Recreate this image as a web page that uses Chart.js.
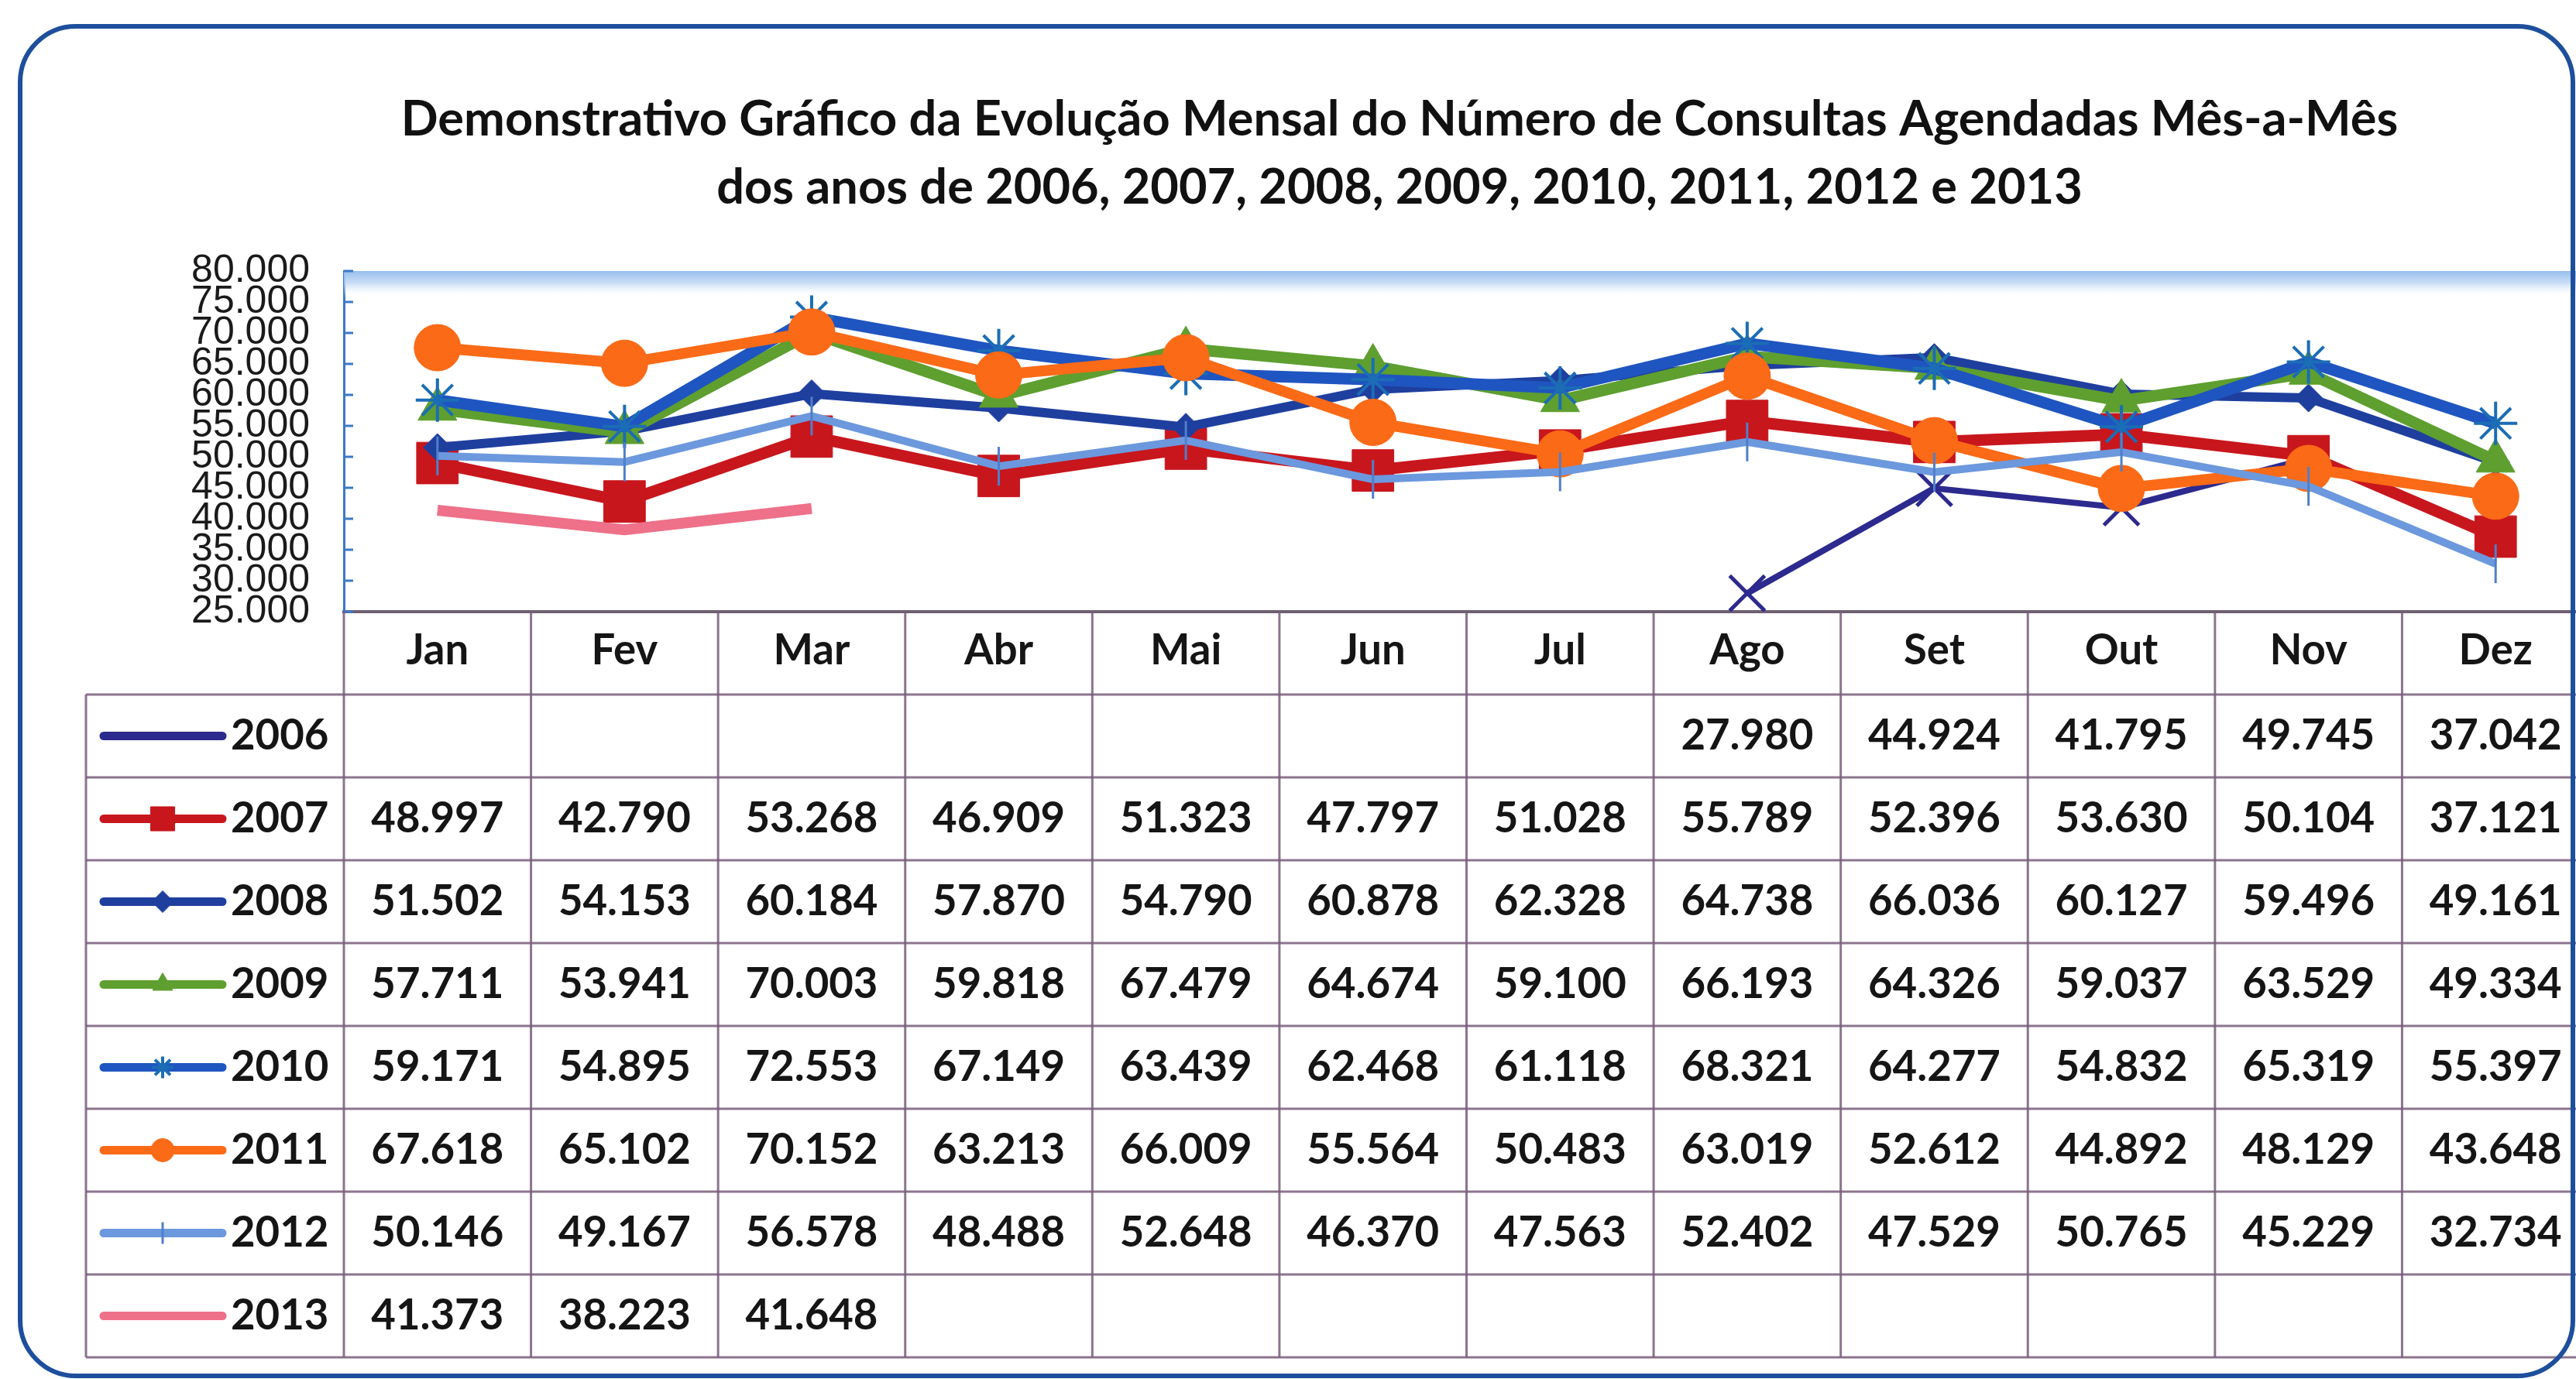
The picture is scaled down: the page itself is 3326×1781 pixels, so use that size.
<!DOCTYPE html>
<html>
<head>
<meta charset="utf-8">
<script src="https://cdn.jsdelivr.net/npm/chart.js@4.4.1/dist/chart.umd.min.js"></script>
<style>
html,body{margin:0;padding:0;background:#fff;overflow:hidden;width:3326px;height:1781px}
canvas{display:block}
</style>
</head>
<body>
<canvas id="c" width="3403" height="1781"></canvas>
<script>
// ---------- DATA ----------
const titleLines = [
  'Demonstrativo Gráfico da Evolução Mensal do Número de Consultas Agendadas Mês-a-Mês',
  'dos anos de 2006, 2007, 2008, 2009, 2010, 2011, 2012 e 2013'
];
const months = ['Jan','Fev','Mar','Abr','Mai','Jun','Jul','Ago','Set','Out','Nov','Dez'];
const years = ['2006','2007','2008','2009','2010','2011','2012','2013'];
const yTickValues = [25000,30000,35000,40000,45000,50000,55000,60000,65000,70000,75000,80000];

const s2006 = [null,null,null,null,null,null,null,27980,44924,41795,49745,37042];
const s2007 = [48997,42790,53268,46909,51323,47797,51028,55789,52396,53630,50104,37121];
const s2008 = [51502,54153,60184,57870,54790,60878,62328,64738,66036,60127,59496,49161];
const s2009 = [57711,53941,70003,59818,67479,64674,59100,66193,64326,59037,63529,49334];
const s2010 = [59171,54895,72553,67149,63439,62468,61118,68321,64277,54832,65319,55397];
const s2011 = [67618,65102,70152,63213,66009,55564,50483,63019,52612,44892,48129,43648];
const s2012 = [50146,49167,56578,48488,52648,46370,47563,52402,47529,50765,45229,32734];
const s2013 = [41373,38223,41648,null,null,null,null,null,null,null,null,null];

const seriesValues = [s2006,s2007,s2008,s2009,s2010,s2011,s2012,s2013];

// ---------- STYLES ----------
const styles = [
  {color:'#2c2a8e', width:8,  point:'crossRot', r:32, lr:0,  pw:5, pcolor:'#2c2a8e', rot:0},
  {color:'#c8161d', width:15, point:'rect',     r:38, lr:22, pw:1, pcolor:'#c8161d', rot:0},
  {color:'#1f3f9f', width:12, point:'rectRot',  r:18, lr:14, pw:1, pcolor:'#1f3f9f', rot:0},
  {color:'#5e9f2f', width:15, point:'triangle', r:29, lr:15, pw:1, pcolor:'#5e9f2f', rot:0},
  {color:'#1f55c0', width:15, point:'star',     r:28, lr:14, pw:4, pcolor:'#1b6db5', rot:0},
  {color:'#fb6a16', width:14, point:'circle',   r:30, lr:15, pw:1, pcolor:'#fb6a16', rot:0},
  {color:'#6c98dd', width:10, point:'line',     r:25, lr:14, pw:3, pcolor:'#4f7fcc', rot:90},
  {color:'#ee7089', width:14, point:false,      r:0,  lr:0,  pw:0, pcolor:'#ee7089', rot:0}
];

const FAM = "Lato, 'Open Sans', 'Noto Sans', sans-serif";
function fitSize(text, weight, family, target){
  const c = document.createElement('canvas').getContext('2d');
  c.font = weight + ' 100px ' + family;
  return 100 * target / c.measureText(text).width;
}
const titleSize = fitSize(titleLines[0], 'bold', FAM, 2579);
const cellSize = fitSize('44.924', 'bold', FAM, 171);

function fmt(v){ return String(v).replace(/\B(?=(\d{3})+(?!\d))/g, '.'); }

// ---------- LAYOUT CONSTANTS ----------
const TABLE = {left:111, headH:107, rowH:107, legX1:134, legX2:287, legMarkX:210, yearX:298};

const decorPlugin = {
  id:'decor',
  beforeDraw(chart){
    const ctx = chart.ctx;
    ctx.save();
    ctx.fillStyle = '#ffffff';
    ctx.fillRect(0,0,chart.width,chart.height);
    ctx.restore();
  },
  beforeDatasetsDraw(chart){
    const ctx = chart.ctx, a = chart.chartArea, y = chart.scales.y;
    ctx.save();
    const g = ctx.createLinearGradient(0, a.top, 0, a.top + 34);
    g.addColorStop(0, 'rgba(150,190,238,1)');
    g.addColorStop(0.45, 'rgba(185,212,244,0.8)');
    g.addColorStop(1, 'rgba(255,255,255,0)');
    ctx.fillStyle = g;
    ctx.fillRect(a.left, a.top, a.right - a.left, 34);
    ctx.strokeStyle = '#3d78c8';
    ctx.lineWidth = 3;
    y.ticks.forEach(t => {
      const py = y.getPixelForValue(t.value);
      ctx.beginPath(); ctx.moveTo(a.left, py); ctx.lineTo(a.left + 12, py); ctx.stroke();
    });
    ctx.restore();
  },
  afterDraw(chart){
    const ctx = chart.ctx, a = chart.chartArea, x = chart.scales.x;
    const n = seriesValues.length;
    const colW = (a.right - a.left) / months.length;
    const headTop = a.bottom, headBot = headTop + TABLE.headH;
    const tableBot = headBot + n * TABLE.rowH;
    ctx.save();
    ctx.strokeStyle = 'rgba(120,92,122,0.85)';
    ctx.lineWidth = 3;
    const line = (x1,y1,x2,y2) => { ctx.beginPath(); ctx.moveTo(x1,y1); ctx.lineTo(x2,y2); ctx.stroke(); };
    for (let i = 0; i <= months.length; i++) {
      const px = a.left + i * colW;
      line(px, headTop, px, tableBot);
    }
    line(TABLE.left, headBot, TABLE.left, tableBot);
    for (let k = 0; k <= n; k++) {
      const py = headBot + k * TABLE.rowH;
      line(TABLE.left, py, chart.width, py);
    }
    ctx.font = 'bold ' + cellSize.toFixed(2) + 'px ' + FAM;
    ctx.textBaseline = 'middle';
    for (let k = 0; k < n; k++) {
      const cy = headBot + (k + 0.5) * TABLE.rowH;
      const st = styles[k];
      ctx.strokeStyle = st.color;
      ctx.lineWidth = 11;
      ctx.lineCap = 'round';
      line(TABLE.legX1, cy, TABLE.legX2, cy);
      ctx.lineCap = 'butt';
      if (st.point && st.lr > 0 && Chart.helpers && Chart.helpers.drawPoint) {
        ctx.fillStyle = st.pcolor; ctx.strokeStyle = st.pcolor;
        ctx.lineWidth = st.pw;
        Chart.helpers.drawPoint(ctx, {pointStyle: st.point, radius: st.lr, rotation: st.rot, borderWidth: st.pw}, TABLE.legMarkX, cy);
      }
      ctx.fillStyle = '#151515';
      ctx.textAlign = 'left';
      ctx.fillText(years[k], TABLE.yearX, cy);
      ctx.textAlign = 'center';
      seriesValues[k].forEach((v, i) => {
        if (v === null) return;
        ctx.fillText(fmt(v), x.getPixelForValue(i), cy);
      });
    }
    const L = 26, T = 34, R = 3322, B = 1777, rad = 72;
    ctx.strokeStyle = '#1d4f9c';
    ctx.lineWidth = 6;
    ctx.beginPath();
    ctx.moveTo(L + rad, T);
    ctx.lineTo(R - rad, T); ctx.arcTo(R, T, R, T + rad, rad);
    ctx.lineTo(R, B - rad); ctx.arcTo(R, B, R - rad, B, rad);
    ctx.lineTo(L + rad, B); ctx.arcTo(L, B, L, B - rad, rad);
    ctx.lineTo(L, T + rad); ctx.arcTo(L, T, L + rad, T, rad);
    ctx.closePath();
    ctx.stroke();
    ctx.restore();
  }
};

const datasets = seriesValues.map((vals, i) => {
  const st = styles[i];
  return {
    label: years[i],
    data: vals,
    yAxisID: 'y',
    borderColor: st.color,
    backgroundColor: st.pcolor,
    borderWidth: st.width,
    tension: 0,
    spanGaps: false,
    borderJoinStyle: 'round',
    pointStyle: st.point,
    pointRadius: st.r,
    pointRotation: st.rot,
    pointBorderWidth: st.pw,
    pointBorderColor: st.pcolor,
    pointBackgroundColor: st.pcolor,
    order: seriesValues.length - 1 - i
  };
});

new Chart(document.getElementById('c'), {
  type: 'line',
  data: { labels: months, datasets: datasets },
  options: {
    responsive: false,
    animation: false,
    devicePixelRatio: 1,
    layout: { padding: { left: 211, right: 0, top: 0, bottom: 28 } },
    plugins: {
      legend: { display: false },
      tooltip: { enabled: false },
      title: {
        display: true,
        text: titleLines,
        color: '#111111',
        font: { family: FAM, weight: 'bold', size: titleSize, lineHeight: 88 / titleSize },
        padding: { top: 111, bottom: 63 }
      }
    },
    scales: {
      x: {
        type: 'category',
        offset: true,
        grid: { display: false, drawTicks: false },
        border: { display: true, color: '#6f5f72', width: 4 },
        ticks: {
          color: '#151515',
          font: { family: FAM, weight: 'bold', size: cellSize },
          padding: 18,
          maxRotation: 0,
          autoSkip: false
        },
        afterFit: (s) => { s.height = 963; }
      },
      y: {
        position: 'left',
        min: 25000,
        max: 80000,
        grid: { display: false, drawTicks: false },
        border: { display: true, color: '#3d78c8', width: 3 },
        afterBuildTicks: (s) => { s.ticks = yTickValues.map(v => ({ value: v })); },
        ticks: {
          autoSkip: false,
          color: '#1a1a1a',
          padding: 44,
          font: { family: "'Liberation Sans', Arial, sans-serif", size: 50, lineHeight: 1 },
          callback: (v) => fmt(v)
        },
        afterFit: (s) => { s.width = 233; }
      },
      yRight: {
        type: 'linear',
        position: 'right',
        display: true,
        grid: { display: false, drawTicks: false },
        border: { display: false },
        ticks: { display: false },
        afterFit: (s) => { s.width = 60; }
      }
    }
  },
  plugins: [decorPlugin]
});
</script>
</body>
</html>
